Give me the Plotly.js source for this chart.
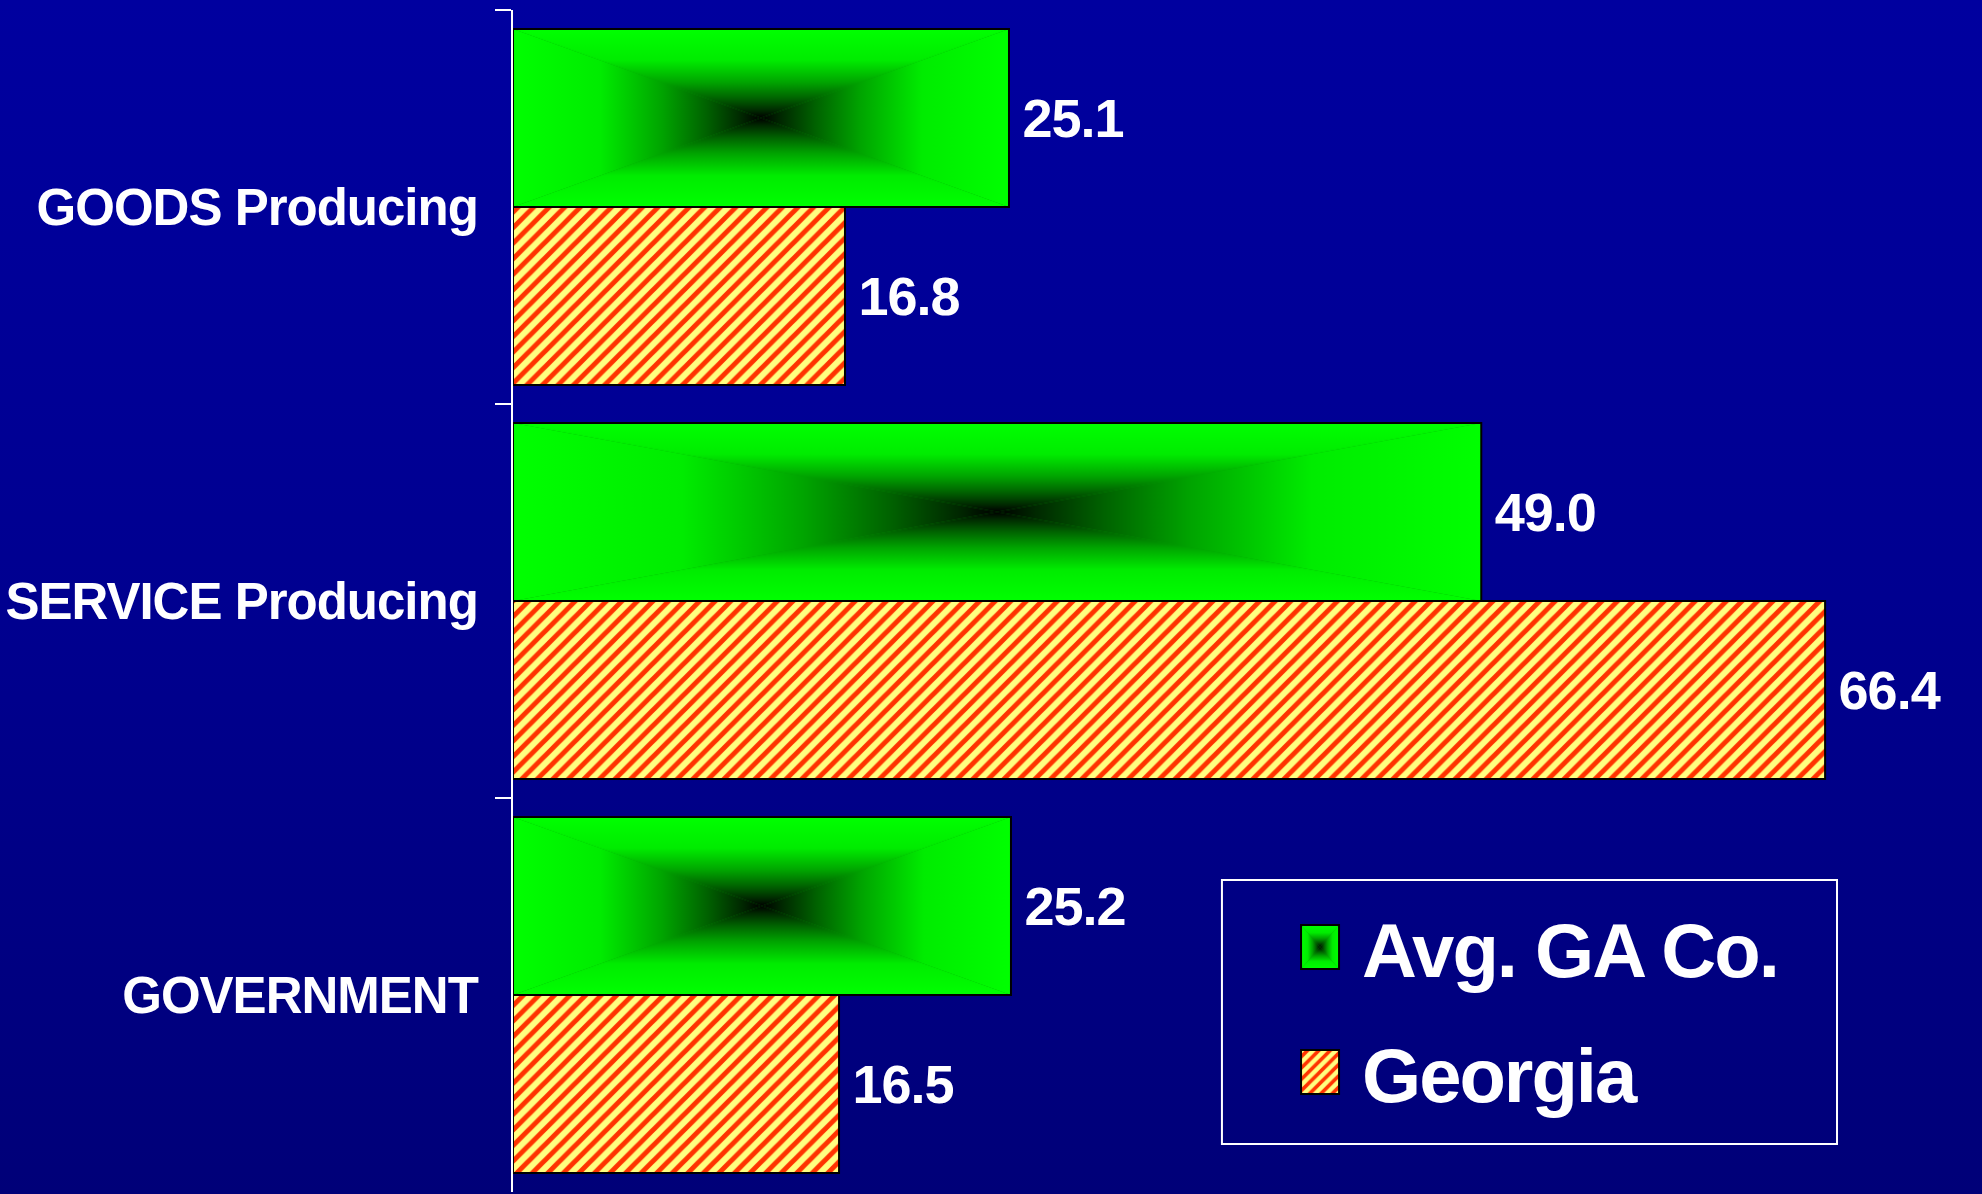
<!DOCTYPE html>
<html><head><meta charset="utf-8">
<script src="https://cdn.plot.ly/plotly-3.0.1.min.js"></script>
<style>
html,body{margin:0;padding:0;width:1982px;height:1194px;overflow:hidden;
  background:linear-gradient(to bottom,#00009f 0%,#000090 50%,#000078 100%);}
#chart{width:1982px;height:1194px;}
#chart .ytick text{letter-spacing:-1px;}
#chart text.bartext{letter-spacing:-1px;}
#chart text.legendtext{letter-spacing:-2px;}
</style></head>
<body>
<svg width="0" height="0" style="position:absolute">
<defs>
 <linearGradient id="gTop" x1="0" y1="0" x2="0" y2="1">
  <stop offset="0" stop-color="#00ff00"/><stop offset="0.35" stop-color="#00ec00"/><stop offset="0.6" stop-color="#00a400"/><stop offset="0.78" stop-color="#006200"/><stop offset="0.92" stop-color="#002800"/><stop offset="1" stop-color="#000000"/>
 </linearGradient>
 <linearGradient id="gBot" x1="0" y1="1" x2="0" y2="0">
  <stop offset="0" stop-color="#00ff00"/><stop offset="0.35" stop-color="#00ec00"/><stop offset="0.6" stop-color="#00a400"/><stop offset="0.78" stop-color="#006200"/><stop offset="0.92" stop-color="#002800"/><stop offset="1" stop-color="#000000"/>
 </linearGradient>
 <linearGradient id="gLeft" x1="0" y1="0" x2="1" y2="0">
  <stop offset="0" stop-color="#00ff00"/><stop offset="0.35" stop-color="#00ec00"/><stop offset="0.6" stop-color="#00a400"/><stop offset="0.78" stop-color="#006200"/><stop offset="0.92" stop-color="#002800"/><stop offset="1" stop-color="#000000"/>
 </linearGradient>
 <linearGradient id="gRight" x1="1" y1="0" x2="0" y2="0">
  <stop offset="0" stop-color="#00ff00"/><stop offset="0.35" stop-color="#00ec00"/><stop offset="0.6" stop-color="#00a400"/><stop offset="0.78" stop-color="#006200"/><stop offset="0.92" stop-color="#002800"/><stop offset="1" stop-color="#000000"/>
 </linearGradient>
 <pattern id="boxgrad" patternUnits="objectBoundingBox" patternContentUnits="objectBoundingBox" width="1" height="1">
  <rect x="0" y="0" width="1" height="1" fill="#00a000"/>
  <polygon points="0,0 1,0 0.5,0.5" fill="url(#gTop)"/>
  <polygon points="0,1 1,1 0.5,0.5" fill="url(#gBot)"/>
  <polygon points="0,0 0,1 0.5,0.5" fill="url(#gLeft)"/>
  <polygon points="1,0 1,1 0.5,0.5" fill="url(#gRight)"/>
 </pattern>
</defs></svg>
<div id="chart"></div>
<script>
// ---- data ----
const categories = ['GOODS Producing', 'SERVICE Producing', 'GOVERNMENT'];
const avgGaCo = [25.1, 49.0, 25.2];
const georgia = [16.8, 66.4, 16.5];
const seriesNames = ['Avg. GA Co.', 'Georgia'];

const FONT = 'Liberation Sans, Arial, Helvetica, sans-serif';

const traces = [
  {
    type: 'bar', orientation: 'h', name: seriesNames[0], legendgroup: 'a',
    x: avgGaCo, y: categories,
    marker: { color: '#00ff00', line: { color: '#000000', width: 2 } },
    texttemplate: '\u2006%{x:.1f}', textposition: 'outside', cliponaxis: false,
    textfont: { family: FONT, size: 54, color: '#ffffff', weight: 700 },
    hoverinfo: 'skip'
  },
  {
    type: 'bar', orientation: 'h', name: seriesNames[1], legendgroup: 'b',
    x: georgia, y: categories,
    marker: { color: '#ffff80', line: { color: '#000000', width: 2 },
      pattern: { shape: '/', fgcolor: '#ff3300', bgcolor: '#ffff80', size: 11, solidity: 0.45, fillmode: 'replace' } },
    texttemplate: '\u2006%{x:.1f}', textposition: 'outside', cliponaxis: false,
    textfont: { family: FONT, size: 54, color: '#ffffff', weight: 700 },
    hoverinfo: 'skip'
  }
];

const layout = {
  width: 1982, height: 1194,
  margin: { l: 513, r: 0, t: 10, b: 2, pad: 0 },
  paper_bgcolor: 'rgba(0,0,0,0)', plot_bgcolor: 'rgba(0,0,0,0)',
  barmode: 'group', bargap: 0.096, bargroupgap: 0,
  font: { family: FONT, color: '#ffffff' },
  xaxis: { range: [0, 74.34], visible: false, showgrid: false, zeroline: false, fixedrange: true },
  yaxis: {
    type: 'category', categoryorder: 'array', categoryarray: categories,
    range: [2.5, -0.5], showgrid: false, zeroline: false,
    showline: true, linecolor: '#ffffff', linewidth: 2,
    ticks: 'outside', tickson: 'boundaries', ticklen: 16, tickwidth: 2, tickcolor: '#ffffff',
    tickfont: { family: FONT, size: 51, color: '#ffffff', weight: 700 },
    ticklabelstandoff: 23, fixedrange: true
  },
  showlegend: true,
  legend: {
    x: 0.5208, y: 0.2545, xanchor: 'left', yanchor: 'top',
    bgcolor: 'rgba(0,0,0,0)', borderwidth: 0,
    font: { family: FONT, size: 76, color: '#ffffff', weight: 700 },
    traceorder: 'grouped', tracegroupgap: 23, itemwidth: 74
  },
  // legend frame
  shapes: [{
    type: 'rect', xref: 'paper', yref: 'paper',
    x0: 0.4826, x1: 0.9013, y0: 0.0406, y1: 0.264,
    line: { color: '#ffffff', width: 2 }, fillcolor: 'rgba(0,0,0,0)', layer: 'below'
  }]
};

Plotly.newPlot('chart', traces, layout, { staticPlot: true, displayModeBar: false }).then(function (gd) {
  const barTraces = gd.querySelectorAll('.barlayer .trace');
  if (barTraces[0]) {
    barTraces[0].querySelectorAll('.point path').forEach(function (p) { p.style.fill = 'url(#boxgrad)'; });
  }
  const legTraces = gd.querySelectorAll('.legend .traces');
  legTraces.forEach(function (t, i) {
    t.querySelectorAll('.legendpoints path').forEach(function (p) {
      p.setAttribute('d', 'M19,22H-19V-22H19Z');
      if (i === 0) p.style.fill = 'url(#boxgrad)';
    });
  });
});
</script>
</body></html>
